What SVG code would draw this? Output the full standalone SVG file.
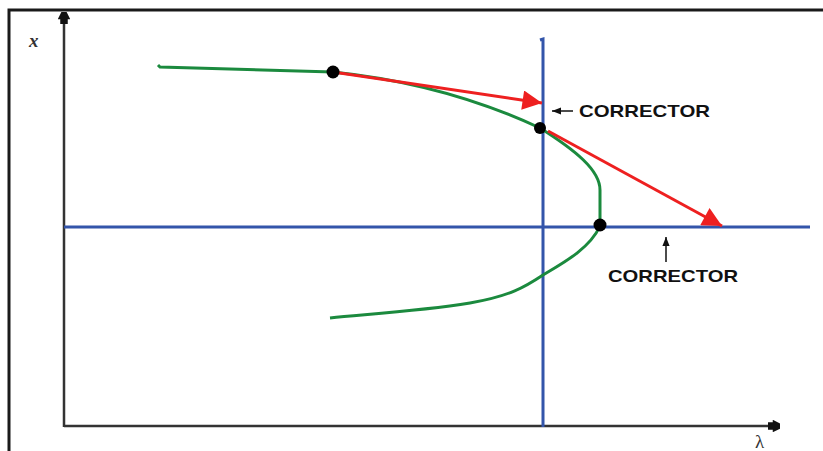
<svg xmlns="http://www.w3.org/2000/svg" width="823" height="451" viewBox="0 0 823 451">
<style>
.frame{stroke:#1a1a1a;stroke-width:3;fill:none}
.axis{stroke:#333;stroke-width:2.5;fill:none}
.blue{stroke:#3355aa;stroke-width:3;fill:none}
.green{stroke:#1b8a3e;stroke-width:3;fill:none}
.red{stroke:#ee2020;stroke-width:3;fill:none}
.lbl{font-family:"Liberation Sans",Arial,sans-serif;font-size:17px;font-weight:bold;fill:#111}
.var{font-family:"Liberation Serif","Times New Roman",serif;font-size:19px;fill:#333}
</style>
<defs>
<marker id="ax" viewBox="0 0 10 10" refX="9" refY="5" markerWidth="5" markerHeight="5" orient="auto" markerUnits="strokeWidth">
<path d="M0,2 L4,2 L4,0 L10,3 L10,7 L4,10 L4,8 L0,8 Z" fill="#111"/>
</marker>
<marker id="ra" viewBox="0 0 10 10" refX="10" refY="5" markerWidth="8" markerHeight="6.5" orient="auto" markerUnits="strokeWidth">
<path d="M0,0 L10,5 L0,10 Z" fill="#ee2020"/>
</marker>
<marker id="sa" viewBox="0 0 10 10" refX="10" refY="5" markerWidth="8" markerHeight="6" orient="auto" markerUnits="strokeWidth">
<path d="M0,1 L10,5 L0,9 Z" fill="#111"/>
</marker>
</defs>
<g id="frame">
<polyline class="frame" points="9,451 9,10 823,10"/>
</g>
<g id="axes">
<line class="axis" x1="64" y1="427" x2="64" y2="13" marker-end="url(#ax)"/>
<line class="axis" x1="64" y1="426" x2="779" y2="426" marker-end="url(#ax)"/>
<text class="var" x="29" y="47" font-style="italic" font-weight="bold">x</text>
<text class="var" x="755" y="448">λ</text>
</g>
<g id="correctors">
<path class="blue" d="M540,40 L543,39 L543,427"/>
<line class="blue" x1="64" y1="227" x2="810" y2="227"/>
</g>
<g id="curve">
<path class="green" d="M158,65 L160,67 L333,72 C410,80 480,100 540,128 C575,150 600,170 600,190 L600,226 C590,248 565,262 543,275 C525,287 510,296 470,303 C420,311 370,314 330,318"/>
</g>
<g id="connectors">
<line class="red" x1="333" y1="72" x2="542" y2="103" marker-end="url(#ra)"/>
<line class="red" x1="548" y1="131" x2="722" y2="226" marker-end="url(#ra)"/>
<line x1="573" y1="111" x2="552" y2="111" stroke="#111" stroke-width="1.5" marker-end="url(#sa)"/>
<line x1="666" y1="262" x2="666" y2="237" stroke="#111" stroke-width="1.5" marker-end="url(#sa)"/>
</g>
<g id="points">
<circle cx="333" cy="72" r="6.5" fill="#000"/>
<circle cx="540" cy="128" r="6" fill="#000"/>
<circle cx="600" cy="225" r="6.5" fill="#000"/>
</g>
<g id="labels">
<text class="lbl" x="579" y="117" textLength="131" lengthAdjust="spacingAndGlyphs">CORRECTOR</text>
<text class="lbl" x="608" y="282" textLength="130" lengthAdjust="spacingAndGlyphs">CORRECTOR</text>
</g>
</svg>
